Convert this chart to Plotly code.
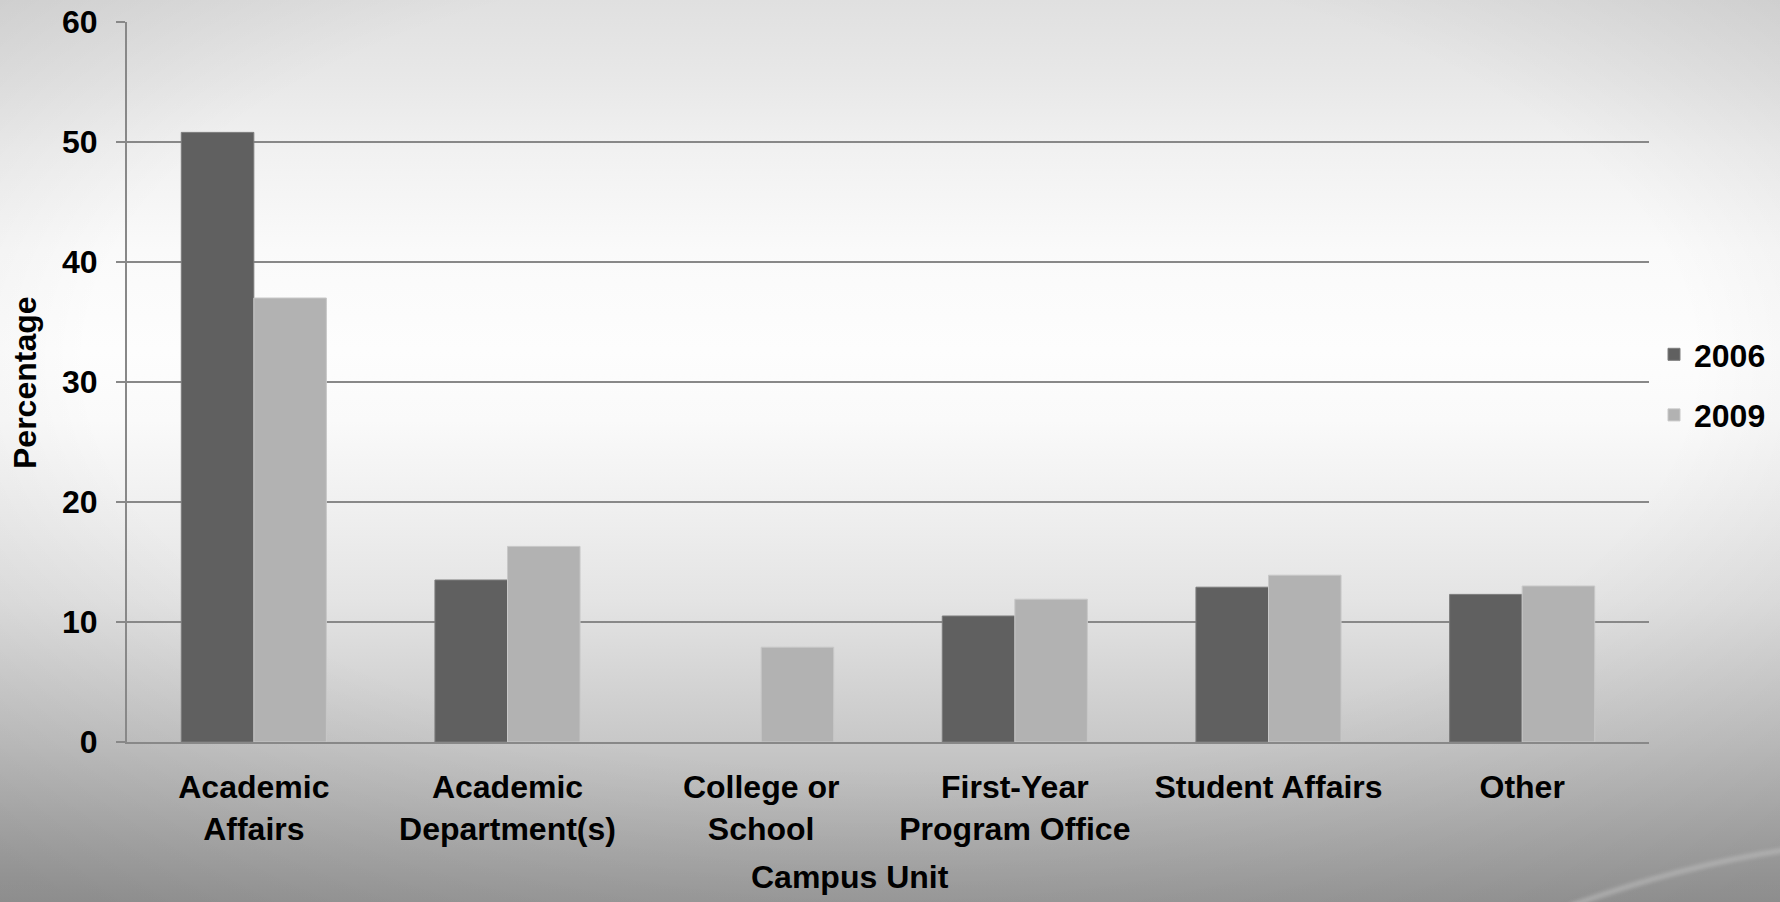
import base64
import plotly.graph_objects as go

# Campus unit categories and percentages per survey year
categories = [
    "Academic<br>Affairs",
    "Academic<br>Department(s)",
    "College or<br>School",
    "First-Year<br>Program Office",
    "Student Affairs",
    "Other",
]
pct_2006 = [50.8, 13.5, None, 10.5, 12.9, 12.3]
pct_2009 = [37.0, 16.3, 7.9, 11.9, 13.9, 13.0]
y_ticks = [0, 10, 20, 30, 40, 50, 60]

W, H = 1780, 902
M_L, M_R, M_T, M_B = 127, 131, 22, 160
PW, PH = W - M_L - M_R, H - M_T - M_B

FONT = "Liberation Sans, Arial, sans-serif"
FS = 32

# Slide-style background: vertical grey gradient with soft darker edges
stops = [
    (0, 224), (80, 232), (150, 241), (250, 250), (350, 253), (420, 250),
    (520, 238), (600, 228), (742, 200), (800, 186), (902, 160),
]
stop_xml = "".join(
    f'<stop offset="{y / H:.4f}" stop-color="rgb({g},{g},{g})"/>' for y, g in stops
)
svg = (
    f'<svg xmlns="http://www.w3.org/2000/svg" width="{W}" height="{H}" '
    f'viewBox="0 0 {W} {H}" preserveAspectRatio="none">'
    f'<defs><linearGradient id="v" x1="0" y1="0" x2="0" y2="1">{stop_xml}</linearGradient>'
    '<radialGradient id="r" cx="0.5" cy="0.4" r="0.75">'
    '<stop offset="0.6" stop-color="#000" stop-opacity="0"/>'
    '<stop offset="1" stop-color="#000" stop-opacity="0.12"/></radialGradient>'
    '<filter id="b"><feGaussianBlur stdDeviation="2"/></filter></defs>'
    f'<rect width="{W}" height="{H}" fill="url(#v)"/>'
    f'<rect width="{W}" height="{H}" fill="url(#r)"/>'
    '<path d="M1570,906 Q1680,866 1785,850" stroke="#bdbdbd" stroke-width="4" '
    'fill="none" opacity="0.8" filter="url(#b)"/>'
    "</svg>"
)
bg_uri = "data:image/svg+xml;base64," + base64.b64encode(svg.encode()).decode()

fig = go.Figure()
fig.add_trace(go.Bar(
    x=categories, y=pct_2006, name="2006", legendgroup="a",
    marker=dict(color="#606060", line=dict(color="#7c7c7c", width=1)),
))
fig.add_trace(go.Bar(
    x=categories, y=pct_2009, name="2009", legendgroup="b",
    marker=dict(color="#b2b2b2", line=dict(color="#c8c8c8", width=1)),
))

fig.update_layout(
    width=W, height=H,
    margin=dict(l=M_L, r=M_R, t=M_T, b=M_B, autoexpand=False),
    paper_bgcolor="#d8d8d8",
    plot_bgcolor="rgba(0,0,0,0)",
    barmode="group", bargap=0.428, bargroupgap=0,
    font=dict(family=FONT, size=FS, color="#000000", weight="bold"),
    showlegend=True,
    legend=dict(
        x=(1654 - M_L) / PW, xanchor="left",
        y=1 - (385 - M_T) / PH, yanchor="middle",
        bgcolor="rgba(0,0,0,0)", tracegroupgap=16,
        font=dict(family=FONT, size=FS, color="#000000", weight="bold"),
    ),
    images=[dict(
        source=bg_uri, xref="paper", yref="paper",
        x=-M_L / PW, y=1 + M_T / PH, sizex=W / PW, sizey=H / PH,
        xanchor="left", yanchor="top", sizing="stretch", layer="below",
    )],
    annotations=[
        dict(text="Campus Unit", xref="paper", yref="paper",
             x=(850 - M_L) / PW, y=(M_T + PH - 877) / PH,
             xanchor="center", yanchor="middle", showarrow=False,
             font=dict(family=FONT, size=FS, color="#000000", weight="bold")),
        dict(text="Percentage", xref="paper", yref="paper",
             x=(25 - M_L) / PW, y=(M_T + PH - 383) / PH, textangle=-90,
             xanchor="center", yanchor="middle", showarrow=False,
             font=dict(family=FONT, size=FS, color="#000000", weight="bold")),
    ],
)

fig.update_xaxes(
    automargin=False,
    showline=True, linecolor="#888888", linewidth=2,
    ticks="", showgrid=False, ticklabelstandoff=16,
    tickfont=dict(family=FONT, size=FS, color="#000000", weight="bold"),
)
fig.update_yaxes(
    automargin=False,
    range=[0, 60], tickvals=y_ticks, ticktext=[str(v) for v in y_ticks],
    showline=True, linecolor="#888888", linewidth=2,
    ticks="outside", ticklen=9, tickwidth=2, tickcolor="#888888",
    showgrid=True, gridcolor="#888888", gridwidth=2,
    zeroline=False, ticklabelstandoff=12,
    tickfont=dict(family=FONT, size=FS, color="#000000", weight="bold"),
)

fig.write_html("out.html")
